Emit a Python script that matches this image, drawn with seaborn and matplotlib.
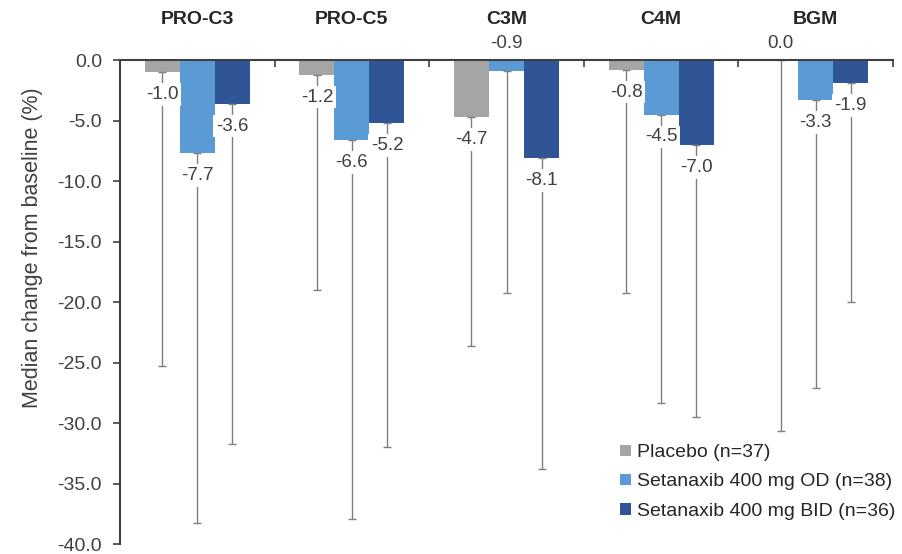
import numpy as np
import pandas as pd
import matplotlib
matplotlib.use('Agg')
import matplotlib.pyplot as plt
import seaborn as sns

# Data
markers = ['PRO-C3', 'PRO-C5', 'C3M', 'C4M', 'BGM']
groups = ['Placebo (n=37)', 'Setanaxib 400 mg OD (n=38)', 'Setanaxib 400 mg BID (n=36)']
placebo = [-1.0, -1.2, -4.7, -0.8, 0.0]
od = [-7.7, -6.6, -0.9, -4.5, -3.3]
bid = [-3.6, -5.2, -8.1, -7.0, -1.9]
# lower end of the whiskers
placebo_low = [-25.3, -19.0, -23.6, -19.2, -30.6]
od_low = [-38.2, -37.9, -19.2, -28.3, -27.1]
bid_low = [-31.7, -32.0, -33.8, -29.5, -20.0]
# labels drawn above the axis instead of under the bar
label_above = [[False, False, False, False, True],
               [False, False, True, False, False],
               [False, False, False, False, False]]

colors = ['#A5A5A5', '#5B9BD5', '#2F5597']

df = pd.DataFrame({
    'marker': markers * 3,
    'group': np.repeat(groups, len(markers)),
    'value': placebo + od + bid,
})
lows = [placebo_low, od_low, bid_low]
vals = [placebo, od, bid]

sns.set_style('white')
plt.rcParams['font.family'] = ['Liberation Sans', 'DejaVu Sans']

fig = plt.figure(figsize=(9.03, 5.54), dpi=100)
ax = fig.add_axes([0.1329, 0.0175, 0.8561, 0.8737])

sns.barplot(data=df, x='marker', y='value', hue='group', palette=colors,
            saturation=1, width=0.68, linewidth=0, ax=ax, legend=True)

bar_containers = list(ax.containers)
for i, cont in enumerate(bar_containers):
    for j, bar in enumerate(cont.patches):
        xc = bar.get_x() + bar.get_width() / 2
        v = vals[i][j]
        ax.errorbar(xc, v, yerr=[[v - lows[i][j]], [0]], fmt='none',
                    ecolor='#7F7F7F', elinewidth=1.0, capsize=3, capthick=1.0, zorder=1)
        if label_above[i][j]:
            ax.annotate(f'{v:.1f}', (xc, 0), xytext=(0, 12), textcoords='offset points',
                        ha='center', va='center', fontsize=13.5, color='#404040',
                        annotation_clip=False)
        else:
            ax.annotate(f'{v:.1f}', (xc, v), xytext=(0, -16), textcoords='offset points',
                        ha='center', va='center', fontsize=13.5, color='#404040',
                        bbox=dict(boxstyle='square,pad=0.15', fc='white', ec='none'),
                        zorder=3)

ax.set_ylim(-40, 0)
ax.set_xlim(-0.5, 4.5)
ax.set_yticks(np.arange(-40, 1, 5))
ax.set_yticklabels([f'{t:.1f}' for t in np.arange(-40, 1, 5)], fontsize=14, color='#404040')
ax.set_ylabel('')
ax.set_xlabel('')
fig.text(33 / 903, 1 - 248 / 554, 'Median change from baseline (%)', rotation=90,
         ha='center', va='center', fontsize=15.5, color='#404040')

ax.xaxis.tick_top()
ax.set_xticks(range(len(markers)))
ax.set_xticklabels(markers, fontsize=14, fontweight='bold', color='#262626')
ax.tick_params(axis='x', length=0, pad=23)
ax.set_xticks(np.arange(0.5, 5, 1), minor=True)
ax.tick_params(axis='x', which='minor', top=True, direction='in', length=5, width=1.2, color='#404040')
ax.tick_params(axis='y', left=True, direction='out', length=5, width=1.2, pad=8, color='#404040')

for s in ['right', 'bottom']:
    ax.spines[s].set_visible(False)
for s in ['left', 'top']:
    ax.spines[s].set_color('#404040')
    ax.spines[s].set_linewidth(1.5)

ax.legend(loc='lower right', bbox_to_anchor=(1.025, 0.015), frameon=False, fontsize=14,
          handlelength=0.55, handleheight=0.55, handletextpad=0.3, labelspacing=0.62,
          labelcolor='#262626')

fig.savefig('out.png', dpi=100)
